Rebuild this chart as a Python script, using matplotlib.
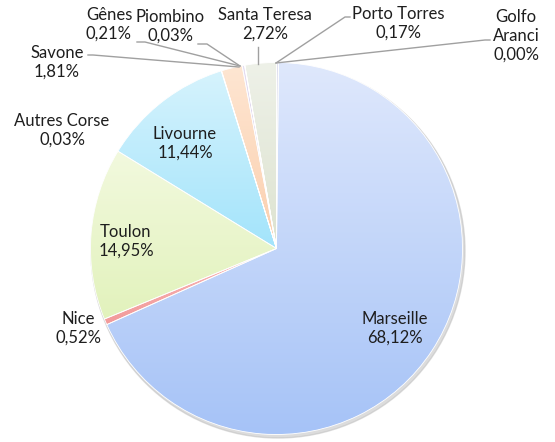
import numpy as np
import matplotlib
matplotlib.use('Agg')
import matplotlib.pyplot as plt
from matplotlib.colors import LinearSegmentedColormap

plt.rcParams['font.family'] = ['Lato', 'DejaVu Sans']

# slices, clockwise from 12 o'clock
ports = ['Golfo\nAranci', 'Porto Torres', 'Marseille', 'Nice', 'Toulon', 'Livourne',
         'Autres Corse', 'Savone', 'Gênes', 'Piombino', 'Santa Teresa']
shares = [0.00, 0.17, 68.12, 0.52, 14.95, 11.44, 0.03, 1.81, 0.21, 0.03, 2.72]

# (top colour, bottom colour) of each slice gradient
grads = [('#dfe8fc', '#a6c3f7'), ('#e2e2f0', '#c8c8e0'), ('#dfe8fc', '#a6c3f7'),
         ('#f9b8b8', '#f29a9a'), ('#f2f9de', '#e2f2bc'), ('#d6f3fd', '#a3e4fb'),
         ('#e0e0f0', '#c8c8e0'), ('#fee6d2', '#fbcfae'), ('#e6def2', '#cfc2e4'),
         ('#dfe8f4', '#c4d3ea'), ('#eef1e8', '#dde3d0')]

# label positions in pixels (x, y from top) and leader line points
label_pos = [(516, 36), (398, 23), (395, 328), (78, 328), (126, 241), (185, 143),
             (62, 130), (57, 62), (109, 24), (170, 26), (265, 24)]
leaders = {
    'Golfo\nAranci': [(490, 40), (485, 40), (276, 63)],
    'Porto Torres': [(350, 17), (345, 17), (276, 63)],
    'Santa Teresa': [(258, 47), (258, 64)],
    'Piombino': [(198, 44), (207, 44), (240, 66)],
    'Gênes': [(137, 42), (145, 42), (240, 66)],
    'Savone': [(88, 55), (93, 55), (239, 67)],
}

W, H = 555, 442
fig = plt.figure(figsize=(W / 100, H / 100), dpi=100)
ax = fig.add_axes([0, 0, 1, 1])

cx, cy, r = 276.5, H - 248.5, 186

# soft shadow
ax.add_patch(plt.Circle((cx + 1.5, cy - 2.5), r + 1, color='#bbbbbb', alpha=0.5, zorder=0))

wedges, _ = ax.pie(shares, center=(cx, cy), radius=r, startangle=90, counterclock=False,
                   frame=True, wedgeprops=dict(edgecolor='white', linewidth=0.6))
ax.set_xlim(0, W)
ax.set_ylim(0, H)
ax.set_aspect('equal')
ax.axis('off')

grad = np.linspace(0, 1, 256).reshape(-1, 1)
for w, (top, bot) in zip(wedges, grads):
    ext = w.get_path().get_extents(w.get_patch_transform())
    cmap = LinearSegmentedColormap.from_list('g', [top, bot])
    im = ax.imshow(grad, cmap=cmap, aspect='auto', origin='upper',
                   extent=(ext.x0, ext.x1, ext.y0, ext.y1), zorder=w.get_zorder() + 0.1)
    im.set_clip_path(w)
    w.set_facecolor('none')
    w.set_zorder(w.get_zorder() + 0.2)

for name, val, (px, py) in zip(ports, shares, label_pos):
    txt = f"{name}\n{val:.2f}%".replace('.', ',')
    ax.text(px, H - py, txt, ha='center', va='center', fontsize=12,
            color='#1e1e1e', linespacing=1.2, zorder=10)

for name, pts in leaders.items():
    xs = [p[0] for p in pts]
    ys = [H - p[1] for p in pts]
    ax.plot(xs, ys, color='#a0a0a0', lw=1.0, zorder=9)

ax.set_xlim(0, W)
ax.set_ylim(0, H)
ax.set_aspect('equal')
fig.savefig('out.png', dpi=100)
